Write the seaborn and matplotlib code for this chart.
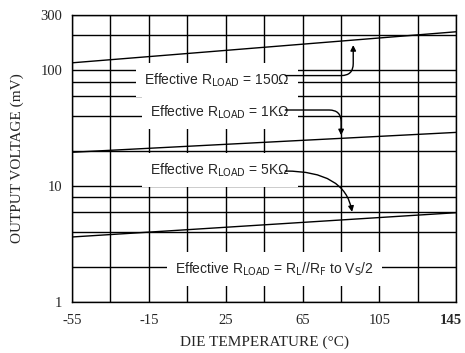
import matplotlib
matplotlib.use("Agg")
import matplotlib.pyplot as plt
import matplotlib.transforms as mtransforms
import seaborn as sns
import pandas as pd

# data (log y axis)
temps = [-55, 145]
v_150 = [116, 215]
v_1k = [19.6, 29.1]
v_5k = [3.64, 5.9]
series = ["150", "1K", "5K"]

x_grid = [-55, -35, -15, 5, 25, 45, 65, 85, 105, 125, 145]
x_labels = ["-55", "", "-15", "", "25", "", "65", "", "105", "", "145"]
y_grid = [1, 2, 4, 6, 8, 10, 20, 40, 60, 80, 100, 200, 300]
y_labels = ["1", "", "", "", "", "10", "", "", "", "", "100", "", "300"]

df = pd.DataFrame({
    "temp": temps * 3,
    "mv": v_150 + v_1k + v_5k,
    "load": [s for s in series for _ in temps],
})

sns.set_style("white")
plt.rcParams["font.family"] = ["Liberation Serif", "DejaVu Serif"]
plt.rcParams["mathtext.fontset"] = "custom"
plt.rcParams["mathtext.rm"] = "Liberation Sans Narrow"

fig = plt.figure(figsize=(4.65, 3.53), dpi=100)
ax = fig.add_axes([0.155, 0.1445, 0.826, 0.813])

sns.lineplot(data=df, x="temp", y="mv", hue="load", palette=["black"] * 3,
             legend=False, linewidth=1.0, ax=ax, zorder=3)

ax.set_yscale("log")
ax.set_xlim(-55, 145)
ax.set_ylim(1, 300)
ax.set_xticks(x_grid)
ax.set_xticklabels(x_labels)
ax.set_yticks(y_grid)
ax.set_yticklabels(y_labels)
ax.minorticks_off()
ax.tick_params(length=0, labelsize=10.5)
ax.tick_params(axis="x", pad=9)
ax.tick_params(axis="y", pad=7)
last = ax.get_xticklabels()[-1]
last.set_fontweight("bold")
last.set_transform(last.get_transform() +
                   mtransforms.ScaledTranslation(-4 / 72, 0, fig.dpi_scale_trans))
ax.grid(True, color="black", linewidth=1.0)
ax.set_axisbelow(True)
for s in ax.spines.values():
    s.set_color("black")
    s.set_linewidth(1.0)

ax.set_xlabel("DIE TEMPERATURE (°C)", fontsize=11, labelpad=6)
ax.set_ylabel("OUTPUT VOLTAGE (mV)", fontsize=11, labelpad=12)

lab_font = ["Liberation Sans Narrow", "Liberation Sans", "DejaVu Sans"]
box = dict(boxstyle="square,pad=0.6", fc="white", ec="none")
labels = [
    (-17.5, 82, "Effective R$_{\\mathrm{LOAD}}$ = 150Ω"),
    (-14.4, 43.5, "Effective R$_{\\mathrm{LOAD}}$ = 1KΩ"),
    (-14.4, 13.8, "Effective R$_{\\mathrm{LOAD}}$ = 5KΩ"),
    (-1.4, 1.93, "Effective R$_{\\mathrm{LOAD}}$ = R$_{\\mathrm{L}}$//R$_{\\mathrm{F}}$ to V$_{\\mathrm{S}}$/2"),
]
for x, y, t in labels:
    ax.text(x, y, t, family=lab_font, fontsize=10, ha="left", va="center",
            bbox=box, zorder=4)

arrows = [
    ((56, 90), (91.4, 165), "angle,angleA=0,angleB=90,rad=12"),
    ((56, 45.4), (85.1, 27.5), "angle,angleA=0,angleB=-90,rad=12"),
    ((56, 13.5), (90.8, 6.0), "angle3,angleA=0,angleB=-80"),
]
for start, tip, cs in arrows:
    ax.annotate("", xy=tip, xytext=start, zorder=5,
                arrowprops=dict(arrowstyle="-|>", color="black", lw=1.0,
                                mutation_scale=8, connectionstyle=cs,
                                shrinkA=0, shrinkB=0))

fig.savefig("out.png", dpi=100)
